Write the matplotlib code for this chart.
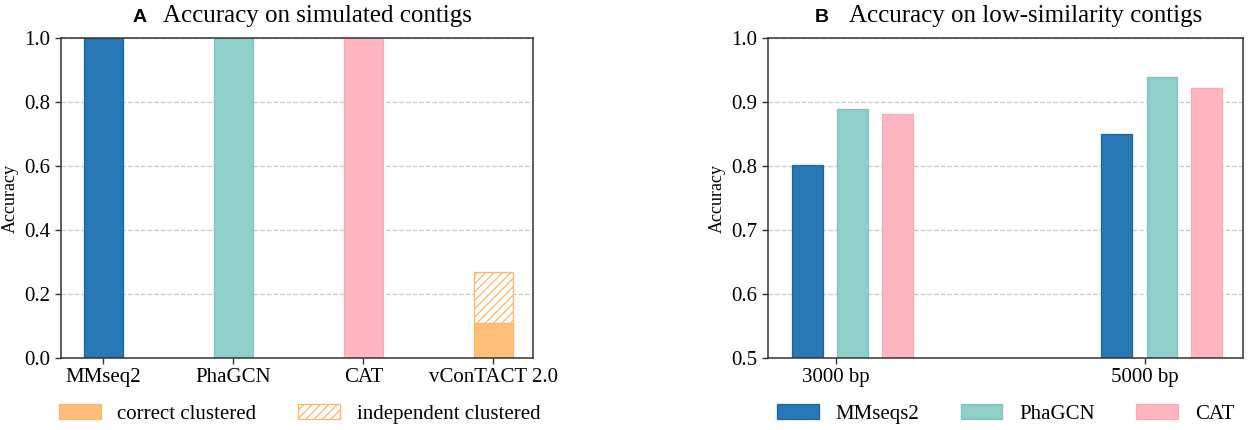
import matplotlib
matplotlib.use("Agg")
import matplotlib.pyplot as plt
import numpy as np

plt.rcParams['font.family'] = ['Liberation Serif', 'DejaVu Serif']
plt.rcParams['hatch.linewidth'] = 0.9

# ---------------- data ----------------
methods_a = ['MMseq2', 'PhaGCN', 'CAT', 'vConTACT 2.0']
acc_a = [1.0, 1.0, 1.0]                 # MMseq2, PhaGCN, CAT
vcontact_correct = 0.11
vcontact_independent = 0.16             # stacked on top (total 0.27)

lengths_b = ['3000 bp', '5000 bp']
methods_b = ['MMseqs2', 'PhaGCN', 'CAT']
mmseqs2_b = [0.802, 0.850]
phagcn_b = [0.890, 0.940]
cat_b = [0.882, 0.923]

# ---------------- style ----------------
c_blue, e_blue = '#2878B5', '#1c63a6'
c_teal, e_teal = '#8ECFC9', '#7cc4bd'
c_pink, e_pink = '#FFB6C1', '#fba8b5'
c_orng, e_orng = '#FFBE7A', '#ffb468'
spine_col = '#333333'
grid_col = '#c8c8c8'
FS = 15

fig = plt.figure(figsize=(12.48, 4.30), dpi=100)
axA = fig.add_axes([61/1248, 1-358/430, (533-61)/1248, (358-38.3)/430])
axB = fig.add_axes([767.7/1248, 1-358/430, (1243-767.7)/1248, (358-38.3)/430])

def style(ax):
    ax.set_axisbelow(True)
    ax.yaxis.grid(True, linestyle='--', color=grid_col, linewidth=0.9)
    for s in ax.spines.values():
        s.set_color(spine_col)
        s.set_linewidth(1.1)
    ax.tick_params(axis='both', labelsize=FS, color=spine_col, length=4, width=1)
    ax.set_ylabel('Accuracy', fontsize=13)

# ---------------- panel A ----------------
xa = np.arange(len(methods_a))
wa = 0.3
axA.bar(xa[:3], acc_a, width=wa, color=[c_blue, c_teal, c_pink],
        edgecolor=[e_blue, e_teal, e_pink], linewidth=0.9)
h1 = axA.bar(xa[3], vcontact_correct, width=wa, color=c_orng,
             edgecolor=e_orng, linewidth=0.9, label='correct clustered')
h2 = axA.bar(xa[3], vcontact_independent, bottom=vcontact_correct, width=wa,
             facecolor='white', edgecolor=e_orng, hatch='////', linewidth=0.9,
             label='independent clustered')
axA.set_xticks(xa)
axA.set_xticklabels(methods_a)
axA.set_ylim(0, 1.0)
axA.set_yticks(np.arange(0, 1.01, 0.2))
axA.set_yticklabels([f'{v:.1f}' for v in np.arange(0, 1.01, 0.2)])
axA.set_xlim(-0.325, 3.305)
style(axA)

axA.text(0.152, 1 + 16.6/320, 'A', transform=axA.transAxes, ha='left', va='baseline',
         fontsize=14, fontweight='bold', family=['Liberation Sans', 'DejaVu Sans'])
axA.text(0.217, 1 + 16.6/320, 'Accuracy on simulated contigs', transform=axA.transAxes,
         ha='left', va='baseline', fontsize=18)

fig.legend(handles=[h1, h2], loc='center', bbox_to_anchor=(299.6/1248, 1-414/430),
           ncol=2, frameon=False, fontsize=FS)

# ---------------- panel B ----------------
xb = np.arange(len(lengths_b))
wb = 0.1
offs = [-0.092, 0.055, 0.2]
hb = []
for vals, off, c, e, lab in zip([mmseqs2_b, phagcn_b, cat_b], offs,
                                [c_blue, c_teal, c_pink], [e_blue, e_teal, e_pink],
                                methods_b):
    hb.append(axB.bar(xb + off, vals, width=wb, color=c, edgecolor=e,
                      linewidth=0.9, label=lab))
axB.set_xticks(xb)
axB.set_xticklabels(lengths_b)
axB.set_ylim(0.5, 1.0)
yt = np.arange(0.5, 1.001, 0.1)
axB.set_yticks(yt)
axB.set_yticklabels([f'{v:.1f}' for v in yt])
axB.set_xlim(-0.22, 1.317)
style(axB)

axB.text(0.0985, 1 + 16.6/320, 'B', transform=axB.transAxes, ha='left', va='baseline',
         fontsize=14, fontweight='bold', family=['Liberation Sans', 'DejaVu Sans'])
axB.text(0.170, 1 + 16.6/320, 'Accuracy on low-similarity contigs', transform=axB.transAxes,
         ha='left', va='baseline', fontsize=18)

fig.legend(handles=hb, loc='center', bbox_to_anchor=(1005.5/1248, 1-414/430),
           ncol=3, frameon=False, fontsize=FS)

fig.savefig('out.png', dpi=100)
